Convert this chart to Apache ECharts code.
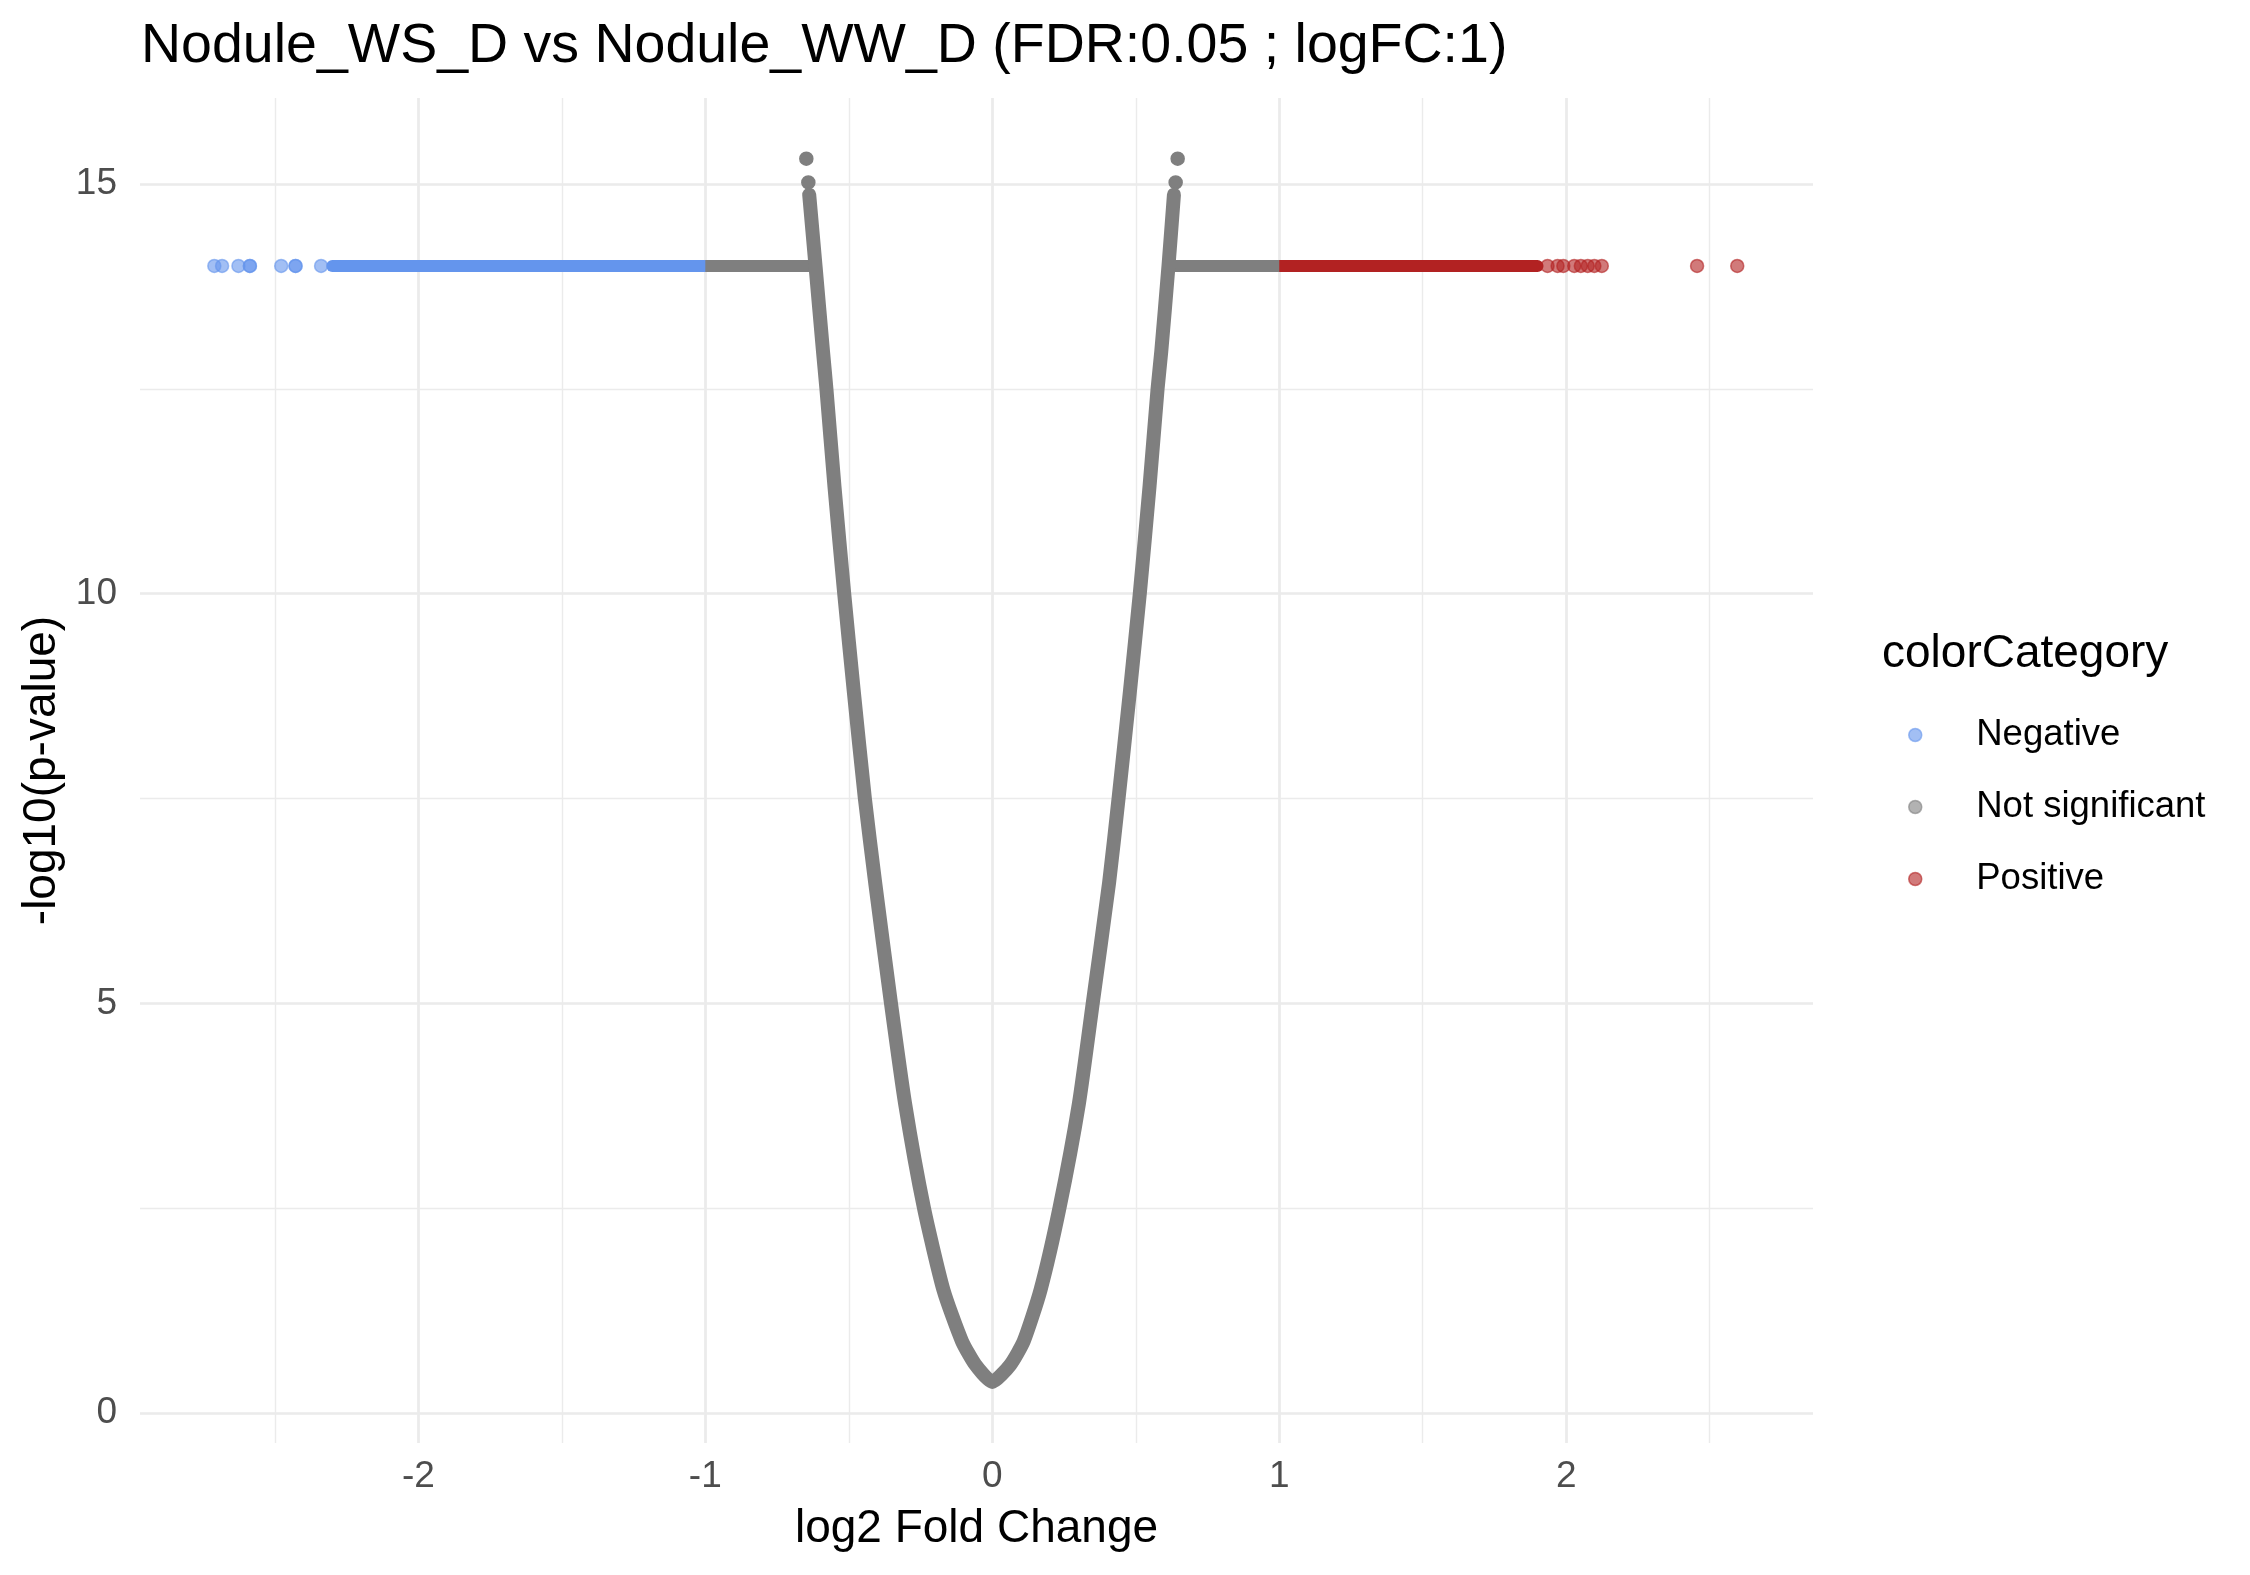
<!DOCTYPE html>
<html>
<head>
<meta charset="utf-8">
<script src="https://cdn.jsdelivr.net/npm/echarts@6/dist/echarts.min.js"></script>
<style>
  html, body { margin: 0; padding: 0; background: #fff; }
  #chart { width: 2250px; height: 1575px; }
</style>
</head>
<body>
<div id="chart"></div>
<script>
// legend categories
var categories = ['Negative', 'Not significant', 'Positive'];

// y of the capped band (-log10 p)
var bandY = 14.0;

// V shaped cloud of non significant genes, read along its centre
var nsCurveX = [-0.638, -0.616, -0.590, -0.578, -0.550, -0.516, -0.483, -0.444, -0.408, -0.353, -0.304, -0.238, -0.170, -0.106, -0.059, 0,
                0.063, 0.110, 0.168, 0.234, 0.302, 0.350, 0.407, 0.440, 0.480, 0.514, 0.548, 0.576, 0.589, 0.614, 0.633];
var nsCurveY = [14.87, 14.0, 12.96, 12.5, 11.31, 10.0, 8.82, 7.5, 6.47, 5.0, 3.78, 2.5, 1.5, 0.88, 0.59, 0.38,
                0.59, 0.88, 1.5, 2.5, 3.78, 5.0, 6.47, 7.5, 8.82, 10.0, 11.31, 12.5, 12.96, 14.0, 14.87];
// the single grey points on top of the V
var nsDotX = [-0.648, -0.641, 0.646, 0.639];
var nsDotY = [15.31, 15.02, 15.31, 15.02];
// grey parts of the band
var nsLeftBandX = [-1.0, -0.616];
var nsRightBandX = [0.614, 1.0];

// negative: dense band plus the loose points on the left
var negBandX = [-2.30, -1.0];
var negDotX = [-2.711, -2.684, -2.627, -2.587, -2.587, -2.478, -2.428, -2.428, -2.339];

// positive: dense band plus the loose points on the right
var posBandX = [1.0, 1.90];
var posDotX = [1.935, 1.97, 1.99, 2.028, 2.051, 2.075, 2.098, 2.124, 2.456, 2.596];

var xTicks = [-2, -1, 0, 1, 2];
var yTicks = [0, 5, 10, 15];

var colors = {
    'Negative': '#6495ED',
    'Not significant': '#7F7F7F',
    'Positive': '#B22222'
};
var fadedColors = {
    'Negative': 'rgba(100,149,237,0.6)',
    'Not significant': 'rgba(127,127,127,0.6)',
    'Positive': 'rgba(178,34,34,0.6)'
};

var FONT = '"Liberation Sans", Arial, sans-serif';
var xMin = -2.97, xMax = 2.86;
var yMin = -0.366, yMax = 16.05;

function pairs(xs, ys) {
    var out = [];
    for (var i = 0; i < xs.length; i++) {
        out.push([xs[i], ys == null ? bandY : ys[i]]);
    }
    return out;
}

function bandSeries(name, xs, cap) {
    return {
        name: name,
        type: 'line',
        data: pairs(xs),
        showSymbol: false,
        symbol: 'none',
        silent: true,
        lineStyle: { color: colors[name], width: 12, cap: cap, join: 'round' },
        itemStyle: { color: colors[name] }
    };
}

function dotSeries(name, data, faded) {
    var c = faded ? fadedColors[name] : colors[name];
    return {
        name: name,
        type: 'scatter',
        data: data,
        symbolSize: 13,
        silent: true,
        itemStyle: { color: c, borderColor: c, borderWidth: 1.5, opacity: 1 }
    };
}

var chart = echarts.init(document.getElementById('chart'));

var majorGrid = { show: true, showMinLine: false, showMaxLine: false, lineStyle: { color: '#EBEBEB', width: 2.7 } };
var minorGrid = { show: true, showMinLine: false, showMaxLine: false, lineStyle: { color: '#EBEBEB', width: 1.4 } };

var option = {
    animation: false,
    backgroundColor: '#ffffff',
    textStyle: { fontFamily: FONT },
    title: [
        {
            text: 'Nodule_WS_D vs Nodule_WW_D (FDR:0.05 ; logFC:1)',
            left: 141, top: 19, padding: 0,
            textStyle: { fontSize: 55.5, fontWeight: 'normal', color: '#000', fontFamily: FONT }
        },
        {
            text: 'colorCategory',
            left: 1882, top: 631, padding: 0,
            textStyle: { fontSize: 46, fontWeight: 'normal', color: '#000', fontFamily: FONT }
        }
    ],
    legend: {
        orient: 'vertical',
        left: 1908, top: 715, padding: 0,
        itemWidth: 112, itemHeight: 13, itemGap: 32,
        icon: 'circle',
        textStyle: { fontSize: 36.5, color: '#000', fontFamily: FONT, lineHeight: 40 },
        data: categories.map(function (n) {
            return { name: n, icon: 'circle', itemStyle: { color: fadedColors[n], borderColor: fadedColors[n], borderWidth: 1.5 } };
        }),
        selectedMode: false
    },
    grid: { left: 140, right: 437, top: 98, bottom: 132, containLabel: false },
    xAxis: [
        {
            type: 'value', min: xMin, max: xMax, minInterval: 1, maxInterval: 1,
            name: 'log2 Fold Change', nameLocation: 'middle', nameGap: 63,
            nameTextStyle: { fontSize: 46, color: '#000', fontFamily: FONT },
            axisLine: { show: false }, axisTick: { show: false },
            axisLabel: {
                fontSize: 37, color: '#4D4D4D', margin: 15, fontFamily: FONT,
                showMinLabel: false, showMaxLabel: false,
                formatter: function (v) { return xTicks.indexOf(v) >= 0 ? String(v) : ''; }
            },
            splitLine: majorGrid
        },
        {
            type: 'value', min: xMin, max: xMax, minInterval: 0.5, maxInterval: 0.5,
            position: 'top',
            axisLine: { show: false }, axisTick: { show: false }, axisLabel: { show: false },
            splitLine: minorGrid
        }
    ],
    yAxis: [
        {
            type: 'value', min: yMin, max: yMax, minInterval: 5, maxInterval: 5,
            name: '-log10(p-value)', nameLocation: 'middle', nameGap: 70, nameRotate: 90,
            nameTextStyle: { fontSize: 46, color: '#000', fontFamily: FONT },
            axisLine: { show: false }, axisTick: { show: false },
            axisLabel: {
                fontSize: 37, color: '#4D4D4D', margin: 23, fontFamily: FONT,
                showMinLabel: false, showMaxLabel: false,
                formatter: function (v) { return yTicks.indexOf(v) >= 0 ? String(v) : ''; }
            },
            splitLine: majorGrid
        },
        {
            type: 'value', min: yMin, max: yMax, minInterval: 2.5, maxInterval: 2.5,
            position: 'right',
            axisLine: { show: false }, axisTick: { show: false }, axisLabel: { show: false },
            splitLine: minorGrid
        }
    ],
    series: [
        bandSeries('Negative', negBandX, 'round'),
        dotSeries('Negative', pairs(negDotX), true),
        bandSeries('Positive', posBandX, 'round'),
        dotSeries('Positive', pairs(posDotX), true),
        bandSeries('Not significant', nsLeftBandX, 'butt'),
        bandSeries('Not significant', nsRightBandX, 'butt'),
        {
            name: 'Not significant',
            type: 'line',
            data: pairs(nsCurveX, nsCurveY),
            showSymbol: false,
            symbol: 'none',
            smooth: 0.2,
            silent: true,
            lineStyle: { color: colors['Not significant'], width: 14, cap: 'round', join: 'round' },
            itemStyle: { color: colors['Not significant'] }
        },
        dotSeries('Not significant', pairs(nsDotX, nsDotY), false)
    ]
};

chart.setOption(option);
</script>
</body>
</html>
